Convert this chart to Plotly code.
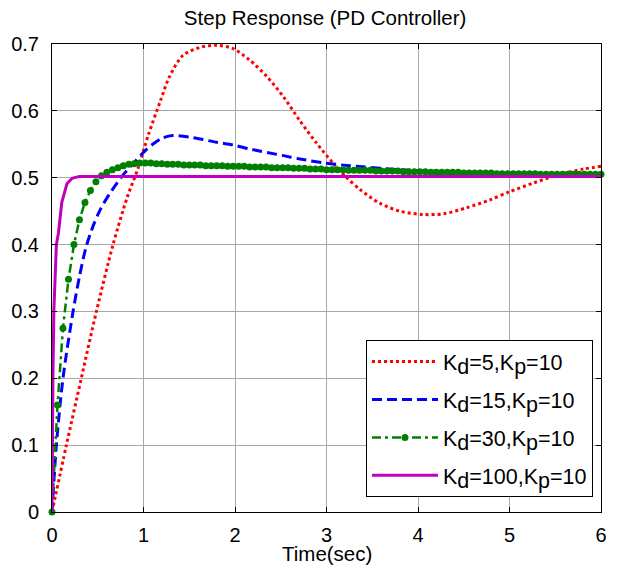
import plotly.graph_objects as go

# ---- data ----
red_t = [0, 0.157, 0.32, 0.485, 0.667, 0.82, 0.94, 1.055, 1.185, 1.28, 1.43, 1.62, 1.8, 1.98,
         2.16, 2.35, 2.53, 2.71, 2.89, 3.07, 3.22, 3.37, 3.58, 3.8, 4.06, 4.28, 4.53, 4.79,
         5.0, 5.26, 5.52, 5.81, 6.0]
red_v = [0, 0.1, 0.2, 0.3, 0.4, 0.47, 0.514, 0.565, 0.615, 0.650, 0.683, 0.695, 0.698, 0.693,
         0.676, 0.651, 0.621, 0.585, 0.552, 0.522, 0.500, 0.482, 0.462, 0.450, 0.445, 0.446,
         0.455, 0.467, 0.479, 0.492, 0.504, 0.513, 0.517]

blue_t = [0, 0.048, 0.12, 0.23, 0.30, 0.37, 0.45, 0.53, 0.62, 0.71, 0.80, 0.90, 1.0, 1.1, 1.2,
          1.32, 1.54, 1.8, 1.98, 2.16, 2.53, 2.71, 2.98, 3.25, 3.8, 4.5, 5.2, 6.0]
blue_v = [0, 0.1, 0.2, 0.3, 0.352, 0.395, 0.428, 0.453, 0.474, 0.492, 0.508, 0.523, 0.538, 0.550,
          0.559, 0.563, 0.560, 0.553, 0.549, 0.543, 0.533, 0.528, 0.522, 0.518, 0.512, 0.508,
          0.506, 0.505]

green_t = [0.00, 0.06, 0.12, 0.18, 0.24, 0.30, 0.36, 0.42, 0.48, 0.54, 0.60, 0.66, 0.72, 0.78,
           0.84, 0.90, 0.96, 1.02, 1.08, 1.14, 1.20, 1.26, 1.32, 1.38, 1.44, 1.50, 1.56, 1.62,
           1.68, 1.74, 1.80, 1.86, 1.92, 1.98, 2.04, 2.10, 2.16, 2.22, 2.28, 2.34, 2.40, 2.46,
           2.52, 2.58, 2.64, 2.70, 2.76, 2.82, 2.88, 2.94, 3.00, 3.06, 3.12, 3.18, 3.24, 3.30,
           3.36, 3.42, 3.48, 3.54, 3.60, 3.66, 3.72, 3.78, 3.84, 3.90, 3.96, 4.02, 4.08, 4.14,
           4.20, 4.26, 4.32, 4.38, 4.44, 4.50, 4.56, 4.62, 4.68, 4.74, 4.80, 4.86, 4.92, 4.98,
           5.04, 5.10, 5.16, 5.22, 5.28, 5.34, 5.40, 5.46, 5.52, 5.58, 5.64, 5.70, 5.76, 5.82,
           5.88, 5.94, 6.00]
green_v = [0, 0.160, 0.275, 0.348, 0.400, 0.437, 0.463, 0.481, 0.494, 0.503, 0.508, 0.512, 0.515,
           0.518, 0.520, 0.521, 0.522, 0.522, 0.522, 0.521, 0.521, 0.520, 0.520, 0.520, 0.519,
           0.519, 0.519, 0.519, 0.518, 0.518, 0.518, 0.518, 0.517, 0.517, 0.517, 0.517, 0.516,
           0.516, 0.516, 0.516, 0.515, 0.515, 0.515, 0.515, 0.514, 0.514, 0.514, 0.513, 0.513,
           0.513, 0.512, 0.512, 0.512, 0.512, 0.511, 0.511, 0.511, 0.511, 0.511, 0.510, 0.510,
           0.510, 0.510, 0.510, 0.509, 0.509, 0.509, 0.509, 0.509, 0.508, 0.508, 0.508, 0.508,
           0.508, 0.508, 0.507, 0.507, 0.507, 0.507, 0.507, 0.507, 0.506, 0.506, 0.506, 0.506,
           0.506, 0.506, 0.506, 0.506, 0.505, 0.505, 0.505, 0.505, 0.505, 0.505, 0.505, 0.505,
           0.505, 0.505, 0.505, 0.505]

mag_t = [0, 0.002, 0.01, 0.02, 0.032, 0.048, 0.07, 0.107, 0.163, 0.219, 0.3, 6.0]
mag_v = [0, 0.12, 0.2, 0.3, 0.36, 0.4, 0.417, 0.463, 0.491, 0.499, 0.502, 0.502]

LEG_FS = 21.5
SUBFS = f"font-size:{LEG_FS}px"
def lab(kd, kp):
    return (f"K<sub><span style='{SUBFS}'>d</span></sub>={kd},"
            f"K<sub><span style='{SUBFS}'>p</span></sub>={kp}")

kd_vals = [5, 15, 30, 100]
kp_vals = [10, 10, 10, 10]
labels = [lab(a, b) for a, b in zip(kd_vals, kp_vals)]
x_ticks = [0, 1, 2, 3, 4, 5, 6]
y_ticks = [0, 0.1, 0.2, 0.3, 0.4, 0.5, 0.6, 0.7]

FONT = "Liberation Sans, Arial, sans-serif"

fig = go.Figure()
fig.add_trace(go.Scatter(x=red_t, y=red_v, mode="lines", name=labels[0], legendgroup="a",
                         line=dict(color="#FF0000", width=3, dash="dot", shape="spline", smoothing=0.8),
                         cliponaxis=False))
fig.add_trace(go.Scatter(x=blue_t, y=blue_v, mode="lines", name=labels[1], legendgroup="b",
                         line=dict(color="#0000FF", width=3, dash="10px,5px", shape="spline", smoothing=0.8),
                         cliponaxis=False))
fig.add_trace(go.Scatter(x=green_t, y=green_v, mode="lines+markers", name=labels[2], legendgroup="c",
                         line=dict(color="#008000", width=2.5, dash="9px,4px,3px,4px"),
                         marker=dict(color="#008000", size=7, symbol="circle"),
                         cliponaxis=False))
fig.add_trace(go.Scatter(x=mag_t, y=mag_v, mode="lines", name=labels[3], legendgroup="d",
                         line=dict(color="#BF00BF", width=3),
                         cliponaxis=False))

axis_common = dict(showline=True, linecolor="black", linewidth=1, mirror="ticks",
                   ticks="inside", ticklen=5, tickcolor="black", automargin=False,
                   showgrid=True, gridcolor="#a8a8a8", gridwidth=1, zeroline=False,
                   tickfont=dict(family=FONT, size=20, color="black"))

fig.update_xaxes(range=[0, 6], tickmode="array", tickvals=x_ticks,
                 ticktext=[str(v) for v in x_ticks], ticklabelstandoff=5,
                 **axis_common)
fig.update_yaxes(range=[0, 0.7], tickmode="array", tickvals=y_ticks,
                 ticktext=["0" if v == 0 else f"{v:.1f}" for v in y_ticks], ticklabelstandoff=8,
                 **axis_common)

fig.add_annotation(text="Time(sec)", xref="paper", yref="paper", x=0.5, y=-0.0897,
                   xanchor="center", yanchor="middle", showarrow=False,
                   font=dict(family=FONT, size=20.5, color="black"))

fig.update_layout(
    width=617, height=569,
    margin=dict(l=52, r=16, t=44, b=57),
    paper_bgcolor="white", plot_bgcolor="white",
    title=dict(text="Step Response (PD Controller)", x=0.527, xanchor="center", y=0.968, yanchor="middle",
               font=dict(family=FONT, size=20.5, color="black")),
    showlegend=True,
    legend=dict(x=0.9854, xanchor="right", y=0.032, yanchor="bottom",
                bgcolor="white", bordercolor="black", borderwidth=1,
                font=dict(family=FONT, size=LEG_FS, color="black"),
                tracegroupgap=7, itemwidth=66),
)

fig.write_html("out.html", config={"displayModeBar": False},
               post_script="document.body.style.margin='0px';")
